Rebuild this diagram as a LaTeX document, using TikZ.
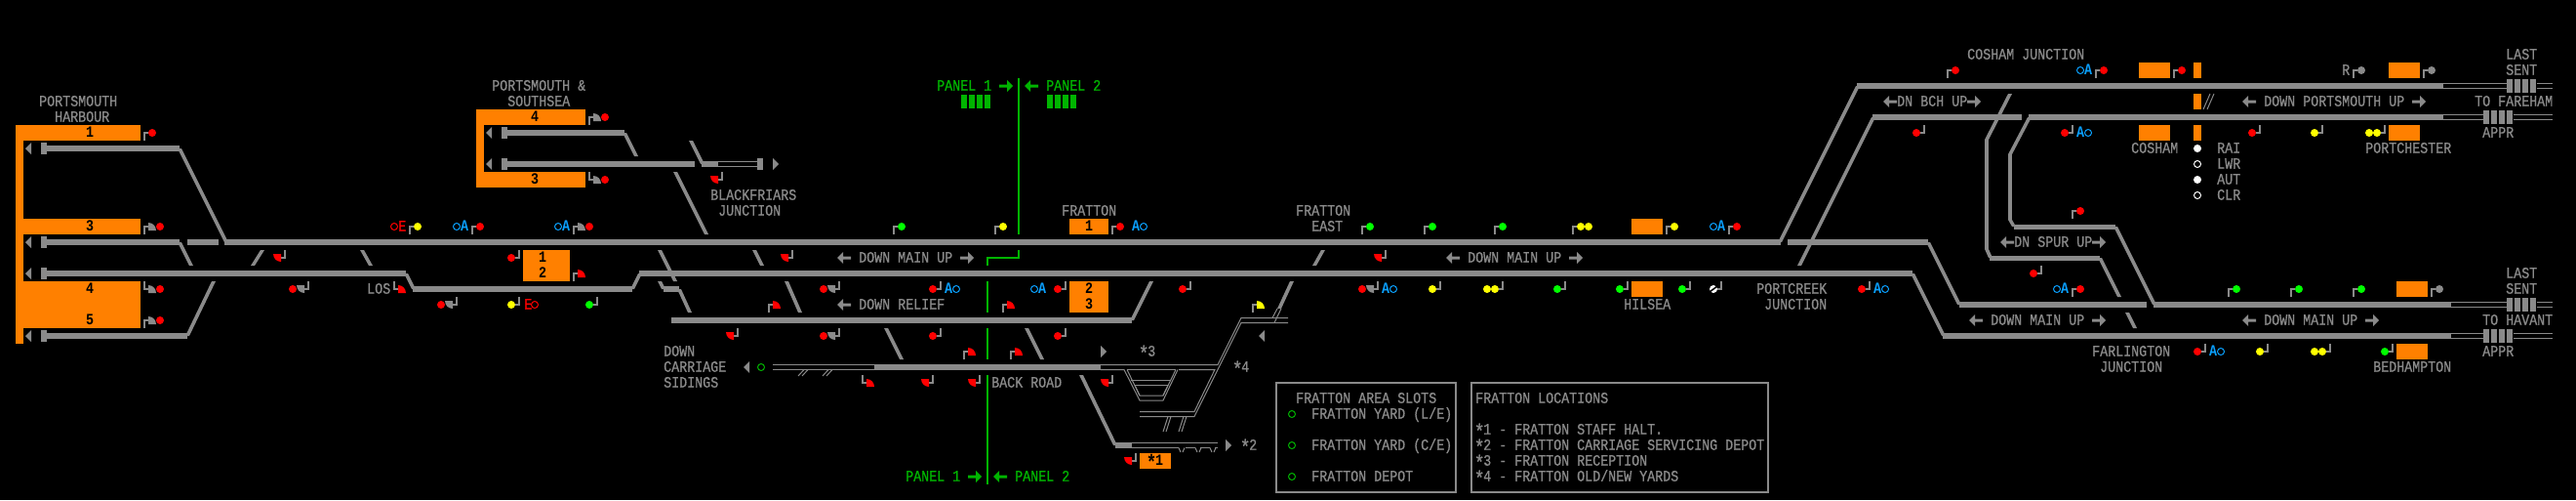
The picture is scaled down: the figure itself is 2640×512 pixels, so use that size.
\documentclass[tikz,border=0pt]{standalone}
\usepackage{fontspec}
\newfontfamily\vt[FakeStretch=0.8333,FakeBold=0.7]{Liberation Mono}
\newfontfamily\vtb[FakeStretch=0.8333]{Liberation Mono Bold}
\definecolor{tg}{HTML}{8A8A8A}
\definecolor{org}{HTML}{FF8000}
\definecolor{sr}{HTML}{FF0000}
\definecolor{sg}{HTML}{00FF00}
\definecolor{sy}{HTML}{FFFF00}
\definecolor{pg}{HTML}{00B400}
\definecolor{bl}{HTML}{0AA0FF}
\tikzset{
  trk/.style={draw=tg,line width=6pt},
  rail/.style={draw=tg,line width=1pt},
  vtrk/.style={draw=tg,line width=4pt},
  post/.style={draw=tg,line width=2pt},
  pline/.style={draw=pg,line width=2pt},
  box/.style={draw=tg,line width=2pt},
  lbl/.style={anchor=base west,inner sep=0pt,font=\vt\fontsize{16}{16}\selectfont},
}
% text: left edge, row centre
\newcommand{\Tx}[4][tg]{\node[lbl,text=#1] at (#2,{#3+4.7}) {#4};}
\newcommand{\Nm}[3]{\node[lbl,text=black,font=\vtb\fontsize{16}{16}\selectfont] at (#1,{#2+4.7}) {#3};}
\newcommand{\Star}{\makebox[8pt]{\raisebox{-4pt}{\fontsize{21}{21}\selectfont *}}}
\newcommand{\Org}[4]{\fill[org] (#1,#2) rectangle (#3,#4);}
\newcommand{\Dg}[4]{\fill[tg] ({#1-2},#2) -- ({#1+2},#2) -- ({#3+2},#4) -- ({#3-2},#4) -- cycle;}
\newcommand{\Head}[3]{\fill[#3] (#1,#2) circle[radius=4pt];}
\newcommand{\Ring}[3]{\draw[#3,line width=1pt] (#1,#2) circle[radius=3.5pt];}
\newcommand{\QU}[3]{\fill[#3] ({#1+4},{#2+4}) -- ({#1+4},{#2-4}) .. controls ({#1+8.4},{#2-4}) and ({#1+12},{#2-0.4}) .. ({#1+12},{#2+4}) -- cycle;}
\newcommand{\QD}[3]{\fill[#3] ({#1-4},{#2-4}) -- ({#1-12},{#2-4}) .. controls ({#1-12},{#2+0.4}) and ({#1-8.4},{#2+4}) .. ({#1-4},{#2+4}) -- cycle;}
\newcommand{\PU}[2]{\draw[post] (#1,{#2+8}) -- (#1,#2) -- ({#1+4},#2);}
\newcommand{\PD}[2]{\draw[post] (#1,{#2-8}) -- (#1,#2) -- ({#1-4},#2);}
\newcommand{\PL}[2]{\draw[post] (#1,{#2-8}) -- (#1,#2) -- ({#1+4},#2);}
\newcommand{\SigU}[3]{\PU{#1}{#2}\Head{#1+8}{#2}{#3}}
\newcommand{\SigUU}[3]{\PU{#1}{#2}\Head{#1+8}{#2}{#3}\Head{#1+16}{#2}{#3}}
\newcommand{\SigUG}[3]{\PU{#1}{#2}\QU{#1}{#2}{tg}\Head{#1+16}{#2}{#3}}
\newcommand{\SigUQ}[3]{\PU{#1}{#2}\QU{#1}{#2}{#3}}
\newcommand{\SigD}[3]{\PD{#1}{#2}\Head{#1-8}{#2}{#3}}
\newcommand{\SigDD}[3]{\PD{#1}{#2}\Head{#1-8}{#2}{#3}\Head{#1-16}{#2}{#3}}
\newcommand{\SigDG}[3]{\PD{#1}{#2}\QD{#1}{#2}{tg}\Head{#1-16}{#2}{#3}}
\newcommand{\SigDQ}[3]{\PD{#1}{#2}\QD{#1}{#2}{#3}}
\newcommand{\SigLG}[3]{\PL{#1}{#2}\QU{#1}{#2}{tg}\Head{#1+16}{#2}{#3}}
\newcommand{\SigLQ}[3]{\PL{#1}{#2}\QU{#1}{#2}{#3}}
\newcommand{\AL}[3]{\fill[#3] (#1,#2) -- ({#1+6},{#2-6}) -- ({#1+6},{#2-1.5}) -- ({#1+14},{#2-1.5}) -- ({#1+14},{#2+1.5}) -- ({#1+6},{#2+1.5}) -- ({#1+6},{#2+6}) -- cycle;}
\newcommand{\AR}[3]{\fill[#3] ({#1+14},#2) -- ({#1+8},{#2-6}) -- ({#1+8},{#2-1.5}) -- (#1,{#2-1.5}) -- (#1,{#2+1.5}) -- ({#1+8},{#2+1.5}) -- ({#1+8},{#2+6}) -- cycle;}
\newcommand{\TriL}[2]{\fill[tg] (#1,#2) -- ({#1+6},{#2-6}) -- ({#1+6},{#2+6}) -- cycle;}
\newcommand{\TriR}[2]{\fill[tg] ({#1+6},#2) -- (#1,{#2-6}) -- (#1,{#2+6}) -- cycle;}
\newcommand{\Buf}[2]{\fill[tg] (#1,{#2-6}) rectangle ({#1+6},{#2+6});}
\newcommand{\Bars}[3]{\foreach \bi in {0,8,16,24} {\fill[#3] ({#1+\bi},{#2}) rectangle ({#1+\bi+6},{#2+14});}}
\newcommand{\Blue}[3]{\Ring{#1}{#3}{bl}\Tx[bl]{#1+4}{#3}{\vtb #2}}
\newcommand{\BlueR}[3]{\Tx[bl]{#1-4}{#3}{\vtb #2}\Ring{#1+8}{#3}{bl}}
\begin{document}
\begin{tikzpicture}[x=1pt,y=-1pt]
\fill[black] (0,0) rectangle (2640,512);
\useasboundingbox (0,0) rectangle (2640,512);
% ---- platforms
\Org{16}{128}{24}{352}\Org{16}{128}{144}{144}\Org{16}{224}{144}{240}\Org{16}{288}{144}{336}
\Org{488}{112}{496}{192}\Org{488}{112}{600}{128}\Org{488}{176}{600}{192}
\Org{536}{256}{584}{288}\Org{1096}{224}{1136}{240}\Org{1096}{288}{1136}{320}
\Org{1168}{464}{1200}{480}\Org{1672}{224}{1704}{240}\Org{1672}{288}{1704}{304}
\Org{2192}{64}{2224}{80}\Org{2192}{128}{2224}{144}
\Org{2248}{64}{2256}{80}\Org{2248}{96}{2256}{112}\Org{2248}{128}{2256}{144}
\Org{2448}{64}{2480}{80}\Org{2448}{128}{2480}{144}
\Org{2456}{288}{2488}{304}\Org{2456}{352}{2488}{368}
\Nm{88}{136}{1}\Nm{88}{232}{3}\Nm{88}{296}{4}\Nm{88}{328}{5}
\Nm{544}{120}{4}\Nm{544}{184}{3}\Nm{552}{264}{1}\Nm{552}{280}{2}
\Nm{1112}{232}{1}\Nm{1112}{296}{2}\Nm{1112}{312}{3}\Nm{1176}{472}{\Star1}
% ---- tracks
\draw[trk] (48,152) -- (184,152);
\draw[trk] (48,248) -- (184,248);
\draw[trk] (192,248) -- (224,248);
\draw[trk] (230,248) -- (1825,248);
\draw[trk] (48,280) -- (416,280);
\draw[trk] (423,296) -- (648,296);
\draw[trk] (655,280) -- (1960,280);
\draw[trk] (48,344) -- (192,344);
\draw[trk] (520,136) -- (640,136);
\draw[trk] (520,168) -- (712,168);
\draw[trk] (719,168) -- (736,168);
\draw[trk] (688,328) -- (1160,328);
\draw[trk] (896,376) -- (1128,376);
\draw[trk] (1143,456) -- (1160,456);
\draw[trk] (680,296) -- (696,296);
\draw[trk] (1832,248) -- (1976,248);
\draw[trk] (1903,88) -- (2504,88);
\draw[trk] (1919,120) -- (2072,120);
\draw[trk] (2079,120) -- (2504,120);
\draw[trk] (2008,312) -- (2200,312);
\draw[trk] (2207,312) -- (2512,312);
\draw[trk] (1991,344) -- (2512,344);
\draw[draw=tg,line width=5pt] (2039,264) -- (2152,264);
\draw[draw=tg,line width=5pt] (2064,232) -- (2168,232);
% ---- diagonals
\Dg{184}{152}{232}{248}\Dg{184}{248}{196}{272}\Dg{269}{256}{259}{272}\Dg{371}{256}{380}{272}
\Dg{416}{280}{424}{296}\Dg{219}{288}{192}{344}\Dg{648}{296}{656}{280}
\Dg{640}{136}{652}{160}\Dg{708}{144}{720}{168}\Dg{692}{176}{724}{240}
\Dg{676}{256}{692}{288}\Dg{676}{288}{680}{296}\Dg{696}{296}{707}{320}
\Dg{773}{256}{781}{272}\Dg{806}{288}{820}{320}\Dg{908}{336}{924}{368}\Dg{1052}{336}{1068}{368}
\Dg{1180}{288}{1160}{328}\Dg{1356}{256}{1347}{272}\Dg{1108}{384}{1143}{456}
\Dg{1324}{288}{1311}{316}
\Dg{1904}{88}{1824}{248}\Dg{1920}{120}{1844}{272}\Dg{1976}{248}{2008}{312}\Dg{1960}{280}{1992}{344}
\Dg{2060}{96}{2036}{143}\Dg{2080}{120}{2060}{158}\Dg{2036}{255}{2040}{264}\Dg{2060}{225}{2064}{232}
\Dg{2152}{264}{2172}{304}\Dg{2168}{232}{2208}{312}\Dg{2180}{320}{2188}{336}
\draw[vtrk] (2036,143) -- (2036,255);
\draw[vtrk] (2060,158) -- (2060,225);
% ---- buffers
\TriL{26}{152}\Buf{42}{152}\TriL{26}{248}\Buf{42}{248}\TriL{26}{280}\Buf{42}{280}\TriL{26}{344}\Buf{42}{344}
\TriL{498}{136}\Buf{514}{136}\TriL{498}{168}\Buf{514}{168}
\Buf{776}{168}\TriR{792}{168}
\TriL{762}{376}\TriR{1128}{360}\TriL{1290}{344}\TriR{1256}{456}
% ---- thin rails
\draw[rail] (736,165.5) -- (776,165.5);
\draw[rail] (736,170.5) -- (776,170.5);
\draw[rail] (792,373.5) -- (896,373.5);
\draw[rail] (792,378.5) -- (896,378.5);
\foreach \q in {818,843} {\draw[rail] ({\q+6},378.5) -- (\q,385); \draw[rail] ({\q+10},378.5) -- ({\q+4},385);}
\draw[rail] (1128,373.5) -- (1248,373.5) -- (1272,325.5) -- (1320,325.5);
\draw[rail] (1128,378.5) -- (1152,378.5) -- (1168,410) -- (1192,410) -- (1207,378.5);
\draw[rail] (1155,378.5) -- (1205,378.5);
\draw[rail] (1155,378.5) -- (1168,405) -- (1192,405) -- (1205,378.5);
\draw[rail] (1159,389.5) -- (1200,389.5);
\draw[rail] (1163,394.5) -- (1197,394.5);
\draw[rail] (1163,394.5) -- (1168,405);
\draw[rail] (1197,394.5) -- (1192,405);
\draw[rail] (1208,378.5) -- (1245,378.5) -- (1224,421.5) -- (1168,421.5);
\draw[rail] (1320,330.5) -- (1272,330.5) -- (1224,426.5) -- (1168,426.5);
\draw[rail] (1197,426.5) -- (1192,442);
\draw[rail] (1200,426.5) -- (1195,442);
\draw[rail] (1213,426.5) -- (1208,442);
\draw[rail] (1216,426.5) -- (1211,442);
\draw[rail] (1309,316) -- (1304,325.5);
\draw[rail] (1313,316) -- (1306,330.5);
\draw[rail] (1160,453.5) -- (1248,453.5);
\draw[rail] (1160,458.5) -- (1208,458.5);
\draw[rail] (1215,458.5) -- (1225,458.5);
\draw[rail] (1230,458.5) -- (1240,458.5);
\draw[rail] (1245,458.5) -- (1248,458.5);
\foreach \q in {1208,1225,1240} {\draw[rail] (\q,458.5) -- ({\q+2},463); \draw[rail] ({\q+6},458.5) -- ({\q+4},463);}
\draw[rail] (2258,112) -- (2265,96);
\draw[rail] (2262,112) -- (2269,96);
% block-end rails
\foreach \r/\a/\b/\c in {88/2504/2569/2600,120/2504/2545/2576,312/2512/2569/2600,344/2512/2545/2576} {
  \draw[rail] (\a,{\r-2.5}) -- (\b,{\r-2.5}); \draw[rail] (\a,{\r+2.5}) -- (\b,{\r+2.5});
  \draw[rail] (\c,{\r-2.5}) -- (2616,{\r-2.5}); \draw[rail] (\c,{\r+2.5}) -- (2616,{\r+2.5});
}
\Bars{2569}{81}{tg}\Bars{2545}{113}{tg}\Bars{2569}{305}{tg}\Bars{2545}{337}{tg}
% ---- panel boundary
\draw[pline] (1044,80) -- (1044,240);
\draw[pline] (1044,256) -- (1044,264) -- (1012,264) -- (1012,272);
\draw[pline] (1012,288) -- (1012,320);
\draw[pline] (1012,336) -- (1012,368);
\draw[pline] (1012,384) -- (1012,496);
\Tx[pg]{960}{88}{PANEL 1}\AR{1024}{88}{pg}\AL{1050}{88}{pg}\Tx[pg]{1072}{88}{PANEL 2}
\Bars{985}{97}{pg}\Bars{1073}{97}{pg}
\Tx[pg]{928}{488}{PANEL 1}\AR{992}{488}{pg}\AL{1018}{488}{pg}\Tx[pg]{1040}{488}{PANEL 2}
% ---- signals
\SigU{148}{136}{sr}\SigUG{148}{232}{sr}\SigLG{148}{296}{sr}\SigUG{148}{328}{sr}
\SigU{420}{232}{sy}\SigDQ{292}{264}{sr}\SigDG{316}{296}{sr}\SigLQ{404}{296}{sr}\SigDG{468}{312}{sr}
\SigUG{604}{120}{sr}\SigLG{604}{184}{sr}\SigDQ{740}{184}{sr}
\SigU{484}{232}{sr}\SigUG{588}{232}{sr}\SigD{532}{264}{sr}\SigUQ{588}{280}{sr}
\SigD{532}{312}{sy}\SigD{612}{312}{sg}
\SigDQ{812}{264}{sr}\SigDG{860}{296}{sr}\SigUQ{788}{312}{sr}
\SigD{964}{296}{sr}\SigD{1092}{296}{sr}\SigUQ{1028}{312}{sr}
\SigDQ{756}{344}{sr}\SigDG{860}{344}{sr}\SigD{964}{344}{sr}\SigUQ{988}{360}{sr}\SigUQ{1036}{360}{sr}\SigD{1092}{344}{sr}
\SigLQ{884}{392}{sr}\SigDQ{956}{392}{sr}\SigDQ{1004}{392}{sr}
\SigU{916}{232}{sg}\SigU{1020}{232}{sy}\SigU{1140}{232}{sr}
\SigD{1220}{296}{sr}\SigUQ{1284}{312}{sy}\SigDQ{1140}{392}{sr}\SigDQ{1164}{472}{sr}
\SigU{1396}{232}{sg}\SigU{1460}{232}{sg}\SigU{1532}{232}{sg}\SigUU{1612}{232}{sy}\SigU{1708}{232}{sy}\SigU{1772}{232}{sr}
\SigDQ{1420}{264}{sr}
\SigDG{1412}{296}{sr}\SigD{1476}{296}{sy}\SigDD{1540}{296}{sy}\SigD{1604}{296}{sg}\SigD{1668}{296}{sg}\SigD{1732}{296}{sg}
\PD{1764}{296}\Head{1756}{296}{white}\draw[black,line width=1.5pt] (1752,299) -- (1760,293);
\SigD{1916}{296}{sr}\SigU{1996}{72}{sr}\SigD{1972}{136}{sr}
\SigU{2148}{72}{sr}\SigU{2228}{72}{sr}\SigD{2124}{136}{sr}
\SigU{2124}{216}{sr}\SigD{2092}{280}{sr}\SigU{2124}{296}{sr}
\SigD{2316}{136}{sr}\SigD{2380}{136}{sy}\SigDD{2444}{136}{sy}
\SigU{2412}{72}{tg}\SigU{2484}{72}{tg}
\SigU{2284}{296}{sg}\SigU{2348}{296}{sg}\SigU{2412}{296}{sg}\SigU{2492}{296}{tg}
\SigD{2260}{360}{sr}\SigD{2324}{360}{sy}\SigDD{2388}{360}{sy}\SigD{2452}{360}{sg}
% ---- approach-lock labels
\Ring{404}{232}{sr}\Tx[sr]{408}{232}{E}
\Tx[sr]{537}{312}{E}\Ring{548}{312}{sr}
\Blue{468}{A}{232}\Blue{572}{A}{232}\Blue{1060}{A}{296}\Blue{1756}{A}{232}\Blue{2132}{A}{72}\Blue{2108}{A}{296}
\BlueR{972}{A}{296}\BlueR{1164}{A}{232}\BlueR{1420}{A}{296}\BlueR{1924}{A}{296}\BlueR{2132}{A}{136}\BlueR{2268}{A}{360}
\Ring{780}{376}{pg}\Ring{1324}{424}{pg}\Ring{1324}{456}{pg}\Ring{1324}{488}{pg}
% ---- direction arrows and labels
\AL{858}{264}{tg}\Tx{880}{264}{DOWN MAIN UP}\AR{984}{264}{tg}
\AL{858}{312}{tg}\Tx{880}{312}{DOWN RELIEF}
\AL{1482}{264}{tg}\Tx{1504}{264}{DOWN MAIN UP}\AR{1608}{264}{tg}
\AL{1930}{104}{tg}\Tx{1944}{104}{DN BCH UP}\AR{2016}{104}{tg}
\AL{2050}{248}{tg}\Tx{2064}{248}{DN SPUR UP}\AR{2144}{248}{tg}
\AL{2018}{328}{tg}\Tx{2040}{328}{DOWN MAIN UP}\AR{2144}{328}{tg}
\AL{2298}{104}{tg}\Tx{2320}{104}{DOWN PORTSMOUTH UP}\AR{2472}{104}{tg}
\AL{2298}{328}{tg}\Tx{2320}{328}{DOWN MAIN UP}\AR{2424}{328}{tg}
\Tx{40}{104}{PORTSMOUTH}\Tx{56}{120}{HARBOUR}
\Tx{504}{88}{PORTSMOUTH \&}\Tx{520}{104}{SOUTHSEA}
\Tx{728}{200}{BLACKFRIARS}\Tx{736}{216}{JUNCTION}
\Tx{376}{296}{LOS}
\Tx{680}{360}{DOWN}\Tx{680}{376}{CARRIAGE}\Tx{680}{392}{SIDINGS}
\Tx{1016}{392}{BACK ROAD}
\Tx{1088}{216}{FRATTON}\Tx{1328}{216}{FRATTON}\Tx{1344}{232}{EAST}
\Tx{1168}{360}{\Star3}\Tx{1264}{376}{\Star4}\Tx{1272}{456}{\Star2}
\Tx{1664}{312}{HILSEA}
\Tx{1800}{296}{PORTCREEK}\Tx{1808}{312}{JUNCTION}
\Tx{2144}{360}{FARLINGTON}\Tx{2152}{376}{JUNCTION}
\Tx{2016}{56}{COSHAM JUNCTION}\Tx{2184}{152}{COSHAM}
\Tx{2424}{152}{PORTCHESTER}\Tx{2432}{376}{BEDHAMPTON}
\Tx{2400}{72}{R}
\Tx{2568}{56}{LAST}\Tx{2568}{72}{SENT}\Tx{2536}{104}{TO FAREHAM}\Tx{2544}{136}{APPR}
\Tx{2568}{280}{LAST}\Tx{2568}{296}{SENT}\Tx{2544}{328}{TO HAVANT}\Tx{2544}{360}{APPR}
\Head{2252}{152}{white}\Ring{2252}{168}{white}\Head{2252}{184}{white}\Ring{2252}{200}{white}
\Tx{2272}{152}{RAI}\Tx{2272}{168}{LWR}\Tx{2272}{184}{AUT}\Tx{2272}{200}{CLR}
% ---- legends
\draw[box] (1308,392) rectangle (1492,504);
\draw[box] (1508,392) rectangle (1812,504);
\Tx{1328}{408}{FRATTON AREA SLOTS}
\Tx{1344}{424}{FRATTON YARD (L/E)}
\Tx{1344}{456}{FRATTON YARD (C/E)}
\Tx{1344}{488}{FRATTON DEPOT}
\Tx{1512}{408}{FRATTON LOCATIONS}
\Tx{1512}{440}{\Star1 - FRATTON STAFF HALT.}
\Tx{1512}{456}{\Star2 - FRATTON CARRIAGE SERVICING DEPOT}
\Tx{1512}{472}{\Star3 - FRATTON RECEPTION}
\Tx{1512}{488}{\Star4 - FRATTON OLD/NEW YARDS}
\end{tikzpicture}
\end{document}
